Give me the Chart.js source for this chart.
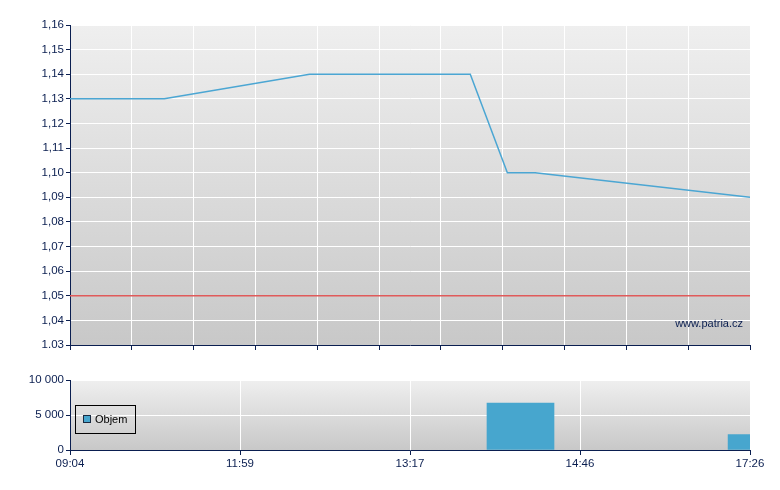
<!DOCTYPE html>
<html>
<head>
<meta charset="utf-8">
<script src="https://cdn.jsdelivr.net/npm/chart.js@4.4.1/dist/chart.umd.min.js"></script>
<style>
    body { margin: 0; background: #ffffff; }
    #wrap { position: relative; width: 780px; height: 490px; }
    canvas { position: absolute; left: 0; }
</style>
</head>
<body>
<div id="wrap">
    <canvas id="priceChart" width="780" height="360" style="top:0"></canvas>
    <canvas id="volumeChart" width="780" height="130" style="top:360px"></canvas>
</div>
<script>
// x positions are trade-index steps (0..44), the axis is not linear in time
const priceX = [0, 6.1, 15.5, 25.9, 28.3, 30.1, 44];
const priceY = [1.13, 1.13, 1.14, 1.14, 1.10, 1.10, 1.09];
const prevClose = 1.05;
const volumeX = [29.15, 44.75];
const volumeY = [6700, 2200];
const timeLabels = ['09:04', '11:59', '13:17', '14:46', '17:26'];
const priceTickLabels = ['1.03', '1,04', '1,05', '1,06', '1,07', '1,08', '1,09', '1,10', '1,11', '1,12', '1,13', '1,14', '1,15', '1,16'];
const volumeTickLabels = ['0', '5 000', '10 000'];

const navy = '#0a1e50';
Chart.defaults.font.family = '"Liberation Sans", Arial, sans-serif';
Chart.defaults.font.size = 11.5;
Chart.defaults.color = navy;

// gradient plot background
const bgPlugin = {
    id: 'bg',
    beforeDraw(chart) {
        const { ctx, chartArea: a } = chart;
        const g = ctx.createLinearGradient(0, a.top, 0, a.bottom);
        g.addColorStop(0, '#efefef');
        g.addColorStop(1, '#c8c8c8');
        ctx.save();
        ctx.fillStyle = g;
        ctx.fillRect(a.left, a.top, a.right - a.left, a.bottom - a.top);
        ctx.restore();
    }
};

const watermark = {
    id: 'watermark',
    afterDraw(chart) {
        const { ctx, chartArea: a } = chart;
        ctx.save();
        ctx.font = '11px "Liberation Sans", Arial, sans-serif';
        ctx.fillStyle = navy;
        ctx.textAlign = 'right';
        ctx.textBaseline = 'alphabetic';
        ctx.fillText('www.patria.cz', a.right - 7, a.bottom - 18);
        ctx.restore();
    }
};

const boxLegend = {
    id: 'boxLegend',
    afterDraw(chart) {
        const { ctx, chartArea: a } = chart;
        const ds = chart.data.datasets[0];
        ctx.save();
        ctx.strokeStyle = '#000000';
        ctx.lineWidth = 1;
        ctx.strokeRect(a.left + 5.5, a.top + 25.5, 60, 28);
        ctx.fillStyle = ds.backgroundColor;
        ctx.fillRect(a.left + 13, a.top + 35, 8, 8);
        ctx.strokeStyle = '#1a2a40';
        ctx.strokeRect(a.left + 13.5, a.top + 35.5, 7, 7);
        ctx.fillStyle = '#000000';
        ctx.font = '11px "Liberation Sans", Arial, sans-serif';
        ctx.textBaseline = 'middle';
        ctx.fillText(ds.label, a.left + 25, a.top + 40);
        ctx.restore();
    }
};

const axisStyle = {
    border: { color: navy, width: 1 },
    grid: { color: '#ffffff', lineWidth: 1, tickColor: navy, tickLength: 5 }
};

new Chart(document.getElementById('priceChart').getContext('2d'), {
    type: 'line',
    data: {
        datasets: [{
            label: 'Kurz',
            data: priceX.map((x, i) => ({ x: x, y: priceY[i] })),
            borderColor: '#4ba6d3',
            borderWidth: 1.5,
            pointRadius: 0,
            tension: 0
        }, {
            label: 'Předchozí',
            data: [{ x: 0, y: prevClose }, { x: 44, y: prevClose }],
            borderColor: '#e05a5a',
            borderWidth: 1.6,
            pointRadius: 0
        }]
    },
    plugins: [bgPlugin, watermark],
    options: {
        responsive: false,
        animation: false,
        devicePixelRatio: 1,
        layout: { padding: { top: 25, right: 30, left: 0, bottom: 0 } },
        plugins: { legend: { display: false }, tooltip: { enabled: false } },
        scales: {
            x: {
                type: 'linear', min: 0, max: 44,
                ...axisStyle,
                ticks: { stepSize: 4, autoSkip: false, callback: () => '' },
                afterFit: s => { s.height = 15; }
            },
            y: {
                min: 1.03, max: 1.16,
                ...axisStyle,
                grid: { ...axisStyle.grid, tickLength: 4 },
                ticks: { stepSize: 0.01, padding: 2, callback: (v, i) => priceTickLabels[i] },
                afterFit: s => { s.width = 70; }
            }
        }
    }
});

new Chart(document.getElementById('volumeChart').getContext('2d'), {
    type: 'bar',
    data: {
        datasets: [{
            label: 'Objem',
            data: volumeX.map((x, i) => ({ x: x, y: volumeY[i] })),
            backgroundColor: '#47a6ce',
            borderWidth: 0,
            barThickness: 67,
            clip: 0
        }]
    },
    plugins: [bgPlugin, boxLegend],
    options: {
        responsive: false,
        animation: false,
        devicePixelRatio: 1,
        layout: { padding: { top: 20, right: 30, left: 0, bottom: 0 } },
        plugins: { legend: { display: false }, tooltip: { enabled: false } },
        scales: {
            x: {
                type: 'linear', min: 0, max: 44, offset: false,
                ...axisStyle,
                grid: { ...axisStyle.grid, offset: false },
                ticks: { stepSize: 11, autoSkip: false, maxRotation: 0, padding: 2, callback: (v, i) => timeLabels[i] },
                afterFit: s => { s.height = 40; }
            },
            y: {
                min: 0, max: 10000,
                ...axisStyle,
                grid: { ...axisStyle.grid, tickLength: 4 },
                ticks: { stepSize: 5000, padding: 2, callback: (v, i) => volumeTickLabels[i] },
                afterFit: s => { s.width = 70; }
            }
        }
    }
});
</script>
</body>
</html>
